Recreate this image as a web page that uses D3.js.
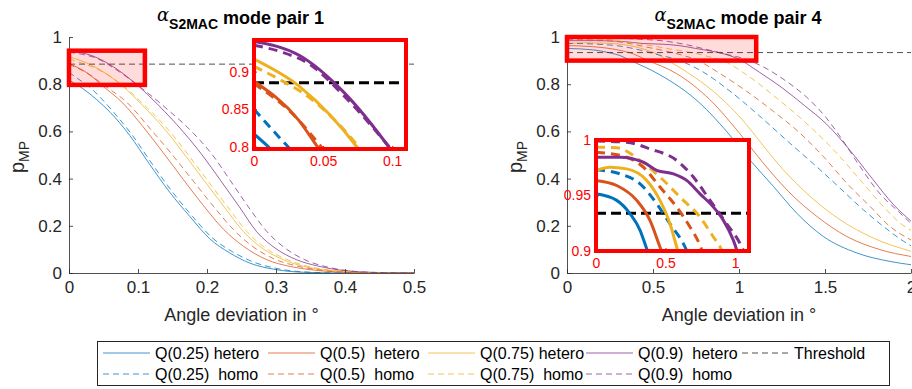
<!DOCTYPE html>
<html>
<head>
<meta charset="utf-8">
<script src="https://cdn.jsdelivr.net/npm/d3@7"></script>
<style>
  body { margin: 0; background: #fff; }
  text { font-family: "Liberation Sans", Arial, sans-serif; }
</style>
</head>
<body>
<div id="chart"></div>
<script>
// ---- data ([angle deviation, p_MP]) ----
var pair1HeteroQ25 = [[0,0.817],[0.012,0.797],[0.04,0.735],[0.06,0.68],[0.088,0.583],[0.117,0.46],[0.146,0.342],[0.175,0.24],[0.204,0.145],[0.233,0.085],[0.262,0.042],[0.301,0.014],[0.34,0.003],[0.4,0],[0.5,0]];
var pair1HomoQ25 = [[0,0.85],[0.018,0.813],[0.026,0.797],[0.045,0.745],[0.065,0.68],[0.092,0.583],[0.121,0.46],[0.15,0.343],[0.179,0.24],[0.208,0.148],[0.237,0.09],[0.266,0.048],[0.305,0.017],[0.345,0.004],[0.4,0],[0.5,0]];
var pair1HeteroQ5 = [[0,0.887],[0.032,0.836],[0.047,0.797],[0.078,0.72],[0.107,0.621],[0.137,0.508],[0.166,0.395],[0.195,0.285],[0.224,0.185],[0.253,0.113],[0.287,0.056],[0.32,0.028],[0.35,0.014],[0.4,0.003],[0.45,0],[0.5,0]];
var pair1HomoQ5 = [[0,0.884],[0.03,0.84],[0.05,0.797],[0.085,0.72],[0.118,0.61],[0.15,0.5],[0.18,0.39],[0.21,0.28],[0.238,0.185],[0.265,0.115],[0.297,0.06],[0.33,0.03],[0.365,0.012],[0.41,0.003],[0.46,0],[0.5,0]];
var pair1HeteroQ75 = [[0,0.9165],[0.033,0.88],[0.0756,0.797],[0.105,0.715],[0.14,0.605],[0.168,0.5],[0.195,0.395],[0.225,0.28],[0.253,0.175],[0.28,0.105],[0.311,0.056],[0.345,0.025],[0.39,0.008],[0.45,0.001],[0.5,0]];
var pair1HomoQ75 = [[0,0.907],[0.019,0.889],[0.035,0.872],[0.077,0.797],[0.108,0.715],[0.145,0.603],[0.173,0.5],[0.2,0.395],[0.23,0.28],[0.258,0.175],[0.285,0.105],[0.315,0.058],[0.35,0.026],[0.4,0.007],[0.46,0.001],[0.5,0]];
var pair1HeteroQ9 = [[0,0.94],[0.0333,0.921],[0.0647,0.873],[0.0986,0.797],[0.13,0.71],[0.165,0.6],[0.193,0.5],[0.219,0.395],[0.247,0.28],[0.272,0.175],[0.3,0.103],[0.33,0.056],[0.36,0.03],[0.4,0.01],[0.45,0.002],[0.5,0]];
var pair1HomoQ9 = [[0,0.935],[0.02,0.926],[0.04,0.91],[0.065,0.868],[0.1,0.795],[0.14,0.7],[0.18,0.593],[0.208,0.5],[0.233,0.395],[0.26,0.28],[0.287,0.175],[0.312,0.108],[0.345,0.052],[0.375,0.025],[0.41,0.008],[0.46,0.001],[0.5,0]];

var pair4HeteroQ25 = [[0,0.9515],[0.149,0.9456],[0.245,0.9335],[0.317,0.9186],[0.36,0.9036],[0.54,0.84],[0.772,0.72],[0.928,0.6],[1.062,0.48],[1.2,0.367],[1.335,0.254],[1.49,0.155],[1.685,0.085],[1.878,0.049],[2,0.035]];
var pair4HomoQ25 = [[0,0.9731],[0.173,0.9695],[0.317,0.9605],[0.437,0.9425],[0.532,0.9245],[0.628,0.9066],[0.772,0.86],[0.966,0.76],[1.12,0.665],[1.296,0.55],[1.452,0.45],[1.587,0.36],[1.723,0.268],[1.84,0.197],[1.956,0.135],[2,0.115]];
var pair4HeteroQ5 = [[0,0.9636],[0.149,0.959],[0.293,0.9456],[0.388,0.9276],[0.46,0.9036],[0.637,0.845],[0.83,0.735],[1.0,0.595],[1.141,0.466],[1.296,0.339],[1.452,0.24],[1.626,0.155],[1.82,0.099],[2,0.07]];
var pair4HomoQ5 = [[0,0.989],[0.221,0.9845],[0.34,0.9755],[0.46,0.9576],[0.58,0.9396],[0.676,0.9216],[0.748,0.905],[0.87,0.854],[1.044,0.77],[1.2,0.685],[1.354,0.593],[1.49,0.494],[1.626,0.381],[1.762,0.282],[1.878,0.197],[2,0.14]];
var pair4HeteroQ75 = [[0,0.9726],[0.101,0.9755],[0.221,0.974],[0.365,0.9636],[0.46,0.9456],[0.532,0.9245],[0.58,0.9036],[0.7,0.85],[0.85,0.77],[1.044,0.628],[1.102,0.575],[1.257,0.438],[1.413,0.325],[1.587,0.226],[1.781,0.148],[2,0.092]];
var pair4HomoQ75 = [[0,0.9935],[0.149,0.993],[0.317,0.9816],[0.46,0.9666],[0.604,0.9486],[0.748,0.9306],[0.844,0.9126],[0.892,0.9036],[1.044,0.84],[1.219,0.741],[1.432,0.607],[1.568,0.508],[1.704,0.395],[1.82,0.297],[1.936,0.212],[2,0.18]];
var pair4HeteroQ9 = [[0,0.9845],[0.173,0.9845],[0.34,0.98],[0.437,0.9726],[0.556,0.9695],[0.652,0.9636],[0.748,0.9515],[0.844,0.9396],[0.916,0.9276],[0.988,0.9096],[1.12,0.85],[1.25,0.785],[1.38,0.71],[1.51,0.63],[1.645,0.52],[1.78,0.395],[1.898,0.29],[2,0.22]];
var pair4HomoQ9 = [[0,0.999],[0.221,0.998],[0.388,0.992],[0.58,0.9816],[0.7,0.9666],[0.82,0.9456],[0.94,0.9245],[1.036,0.9066],[1.15,0.87],[1.27,0.815],[1.393,0.745],[1.51,0.655],[1.6,0.565],[1.7,0.455],[1.82,0.335],[1.92,0.265],[2,0.21]];

var pair1Threshold = 0.885;
var pair4Threshold = 0.934;

// ticks
var yTicks = [0, 0.2, 0.4, 0.6, 0.8, 1];
var pair1XTicks = [0, 0.1, 0.2, 0.3, 0.4, 0.5];
var pair4XTicks = [0, 0.5, 1, 1.5, 2];
var pair1InsetXTicks = [0, 0.05, 0.1];
var pair1InsetYTicks = [0.8, 0.85, 0.9];
var pair4InsetXTicks = [0, 0.5, 1];
var pair4InsetYTicks = [0.9, 0.95, 1];

// legend
var heteroLabels = ["Q(0.25) hetero", "Q(0.5)  hetero", "Q(0.75) hetero", "Q(0.9)  hetero"];
var homoLabels = ["Q(0.25)  homo", "Q(0.5)  homo", "Q(0.75)  homo", "Q(0.9)  homo"];
var thresholdLabel = "Threshold";

// MATLAB default line colours
var colors = ["#0072BD", "#D95319", "#EDB120", "#7E2F8E"];

var svgWidth = 912;
var svgHeight = 389;

var svg = d3.select("#chart")
  .append("svg")
  .attr("width", svgWidth)
  .attr("height", svgHeight);

var defs = svg.append("defs");
var axisColor = "#262626";

function drawPanel(p) {
  var xScale = d3.scaleLinear().domain(p.xDomain).range([p.left, p.left + p.width]);
  var yScale = d3.scaleLinear().domain([0, 1]).range([p.top + p.height, p.top]);

  var series = [];
  p.hetero.forEach(function(d, i) { series.push({ data: d, color: colors[i], dash: null }); });
  p.homo.forEach(function(d, i) { series.push({ data: d, color: colors[i], dash: "6,4" }); });

  defs.append("clipPath").attr("id", "clip" + p.id)
    .append("rect")
    .attr("x", p.left).attr("y", p.top - 2)
    .attr("width", p.width).attr("height", p.height + 2);

  var g = svg.append("g");

  // main curves
  var line = d3.line()
    .curve(d3.curveMonotoneX)
    .x(function(d) { return xScale(d[0]); })
    .y(function(d) { return yScale(d[1]); });

  g.append("g").attr("clip-path", "url(#clip" + p.id + ")")
    .selectAll("path")
    .data(series)
    .enter()
    .append("path")
    .attr("d", function(d) { return line(d.data); })
    .attr("fill", "none")
    .attr("stroke", function(d) { return d.color; })
    .attr("stroke-opacity", 0.75)
    .attr("stroke-width", 1)
    .attr("stroke-dasharray", function(d) { return d.dash; });

  // threshold
  g.append("line")
    .attr("x1", xScale(p.xDomain[0])).attr("x2", xScale(p.xDomain[1]))
    .attr("y1", yScale(p.threshold)).attr("y2", yScale(p.threshold))
    .attr("stroke", "#333").attr("stroke-opacity", 0.85)
    .attr("stroke-width", 1).attr("stroke-dasharray", "6,4");

  // axes (only left and bottom, ticks inward like MATLAB)
  var bottomAxis = d3.axisBottom(xScale).tickValues(p.xTicks)
    .tickFormat(d3.format("~g")).tickSizeInner(-4).tickSizeOuter(0).tickPadding(8);
  var leftAxis = d3.axisLeft(yScale).tickValues(yTicks)
    .tickFormat(d3.format("~g")).tickSizeInner(-4).tickSizeOuter(0).tickPadding(7);

  var xAxis = g.append("g")
    .attr("transform", "translate(0," + (p.top + p.height) + ")")
    .call(bottomAxis);
  var yAxis = g.append("g")
    .attr("transform", "translate(" + p.left + ",0)")
    .call(leftAxis);
  [xAxis, yAxis].forEach(function(a) {
    a.attr("font-size", 17).attr("font-family", "Liberation Sans, Arial, sans-serif");
    a.selectAll("path, line").attr("stroke", axisColor).attr("stroke-opacity", 0.8);
    a.selectAll("text").attr("fill", axisColor);
  });

  // zoom box on the main axes
  g.append("rect")
    .attr("x", xScale(p.insetX[0]))
    .attr("y", yScale(p.insetY[1]))
    .attr("width", xScale(p.insetX[1]) - xScale(p.insetX[0]))
    .attr("height", yScale(p.insetY[0]) - yScale(p.insetY[1]))
    .attr("fill", "#ff0000").attr("fill-opacity", 0.14)
    .attr("stroke", "#ff0000").attr("stroke-width", 4.5);

  // title
  var title = g.append("text")
    .attr("x", p.left + p.width / 2 - 1)
    .attr("y", 24)
    .attr("text-anchor", "middle")
    .attr("font-weight", "bold")
    .attr("font-size", 18)
    .attr("fill", "#000");
  title.append("tspan").attr("font-family", "DejaVu Serif").attr("font-style", "italic")
    .attr("font-weight", "normal").attr("font-size", 18).attr("dy", -3).text("α");
  title.append("tspan").attr("font-size", 14).attr("dy", 8).text("S2MAC");
  title.append("tspan").attr("dy", -5).text(" mode pair " + p.pairNo);

  // axis labels
  g.append("text")
    .attr("x", p.left + p.width / 2)
    .attr("y", 321)
    .attr("text-anchor", "middle")
    .attr("font-size", 18)
    .attr("fill", axisColor)
    .text("Angle deviation in °");

  var yLabel = g.append("text")
    .attr("transform", "translate(" + (p.left - 45) + "," + (p.top + p.height / 2 + 2) + ") rotate(-90)")
    .attr("text-anchor", "middle")
    .attr("font-size", 20)
    .attr("fill", axisColor);
  yLabel.append("tspan").text("p");
  yLabel.append("tspan").attr("font-size", 14).attr("dy", 5).text("MP");

  // inset
  var ix = d3.scaleLinear().domain(p.insetX).range([p.inset.left, p.inset.left + p.inset.width]);
  var iy = d3.scaleLinear().domain(p.insetY).range([p.inset.top + p.inset.height, p.inset.top]);
  var ig = svg.append("g");

  ig.append("rect")
    .attr("x", p.inset.left).attr("y", p.inset.top)
    .attr("width", p.inset.width).attr("height", p.inset.height)
    .attr("fill", "#fff");

  defs.append("clipPath").attr("id", "inclip" + p.id)
    .append("rect")
    .attr("x", p.inset.left).attr("y", p.inset.top)
    .attr("width", p.inset.width).attr("height", p.inset.height);

  var insetLine = d3.line()
    .curve(d3.curveMonotoneX)
    .x(function(d) { return ix(d[0]); })
    .y(function(d) { return iy(d[1]); });

  var inner = ig.append("g").attr("clip-path", "url(#inclip" + p.id + ")");

  inner.append("line")
    .attr("x1", p.inset.left).attr("x2", p.inset.left + p.inset.width)
    .attr("y1", iy(p.threshold)).attr("y2", iy(p.threshold))
    .attr("stroke", "#000").attr("stroke-width", 3).attr("stroke-dasharray", "10,5");

  // homo first so the solid hetero lines sit on top
  inner.selectAll("path")
    .data(series.slice(4).concat(series.slice(0, 4)))
    .enter()
    .append("path")
    .attr("d", function(d) { return insetLine(d.data); })
    .attr("fill", "none")
    .attr("stroke", function(d) { return d.color; })
    .attr("stroke-width", 3)
    .attr("stroke-dasharray", function(d) { return d.dash ? "9,6" : null; });

  // inset axes in red
  var insetBottom = d3.axisBottom(ix).tickValues(p.insetXTicks)
    .tickFormat(d3.format("~g")).tickSizeInner(-3).tickSizeOuter(0).tickPadding(7);
  var insetLeft = d3.axisLeft(iy).tickValues(p.insetYTicks)
    .tickFormat(d3.format("~g")).tickSizeInner(-3).tickSizeOuter(0).tickPadding(5);
  var ixAxis = ig.append("g")
    .attr("transform", "translate(0," + (p.inset.top + p.inset.height) + ")")
    .call(insetBottom);
  var iyAxis = ig.append("g")
    .attr("transform", "translate(" + p.inset.left + ",0)")
    .call(insetLeft);
  [ixAxis, iyAxis].forEach(function(a) {
    a.attr("font-size", 14).attr("font-family", "Liberation Sans, Arial, sans-serif");
    a.select(".domain").remove();
    a.selectAll("line").attr("stroke", "#ff0000");
    a.selectAll("text").attr("fill", "#ff0000");
  });

  ig.append("rect")
    .attr("x", p.inset.left).attr("y", p.inset.top)
    .attr("width", p.inset.width).attr("height", p.inset.height)
    .attr("fill", "none")
    .attr("stroke", "#ff0000").attr("stroke-width", 4);
}

drawPanel({
  id: 1, pairNo: 1,
  left: 69, top: 37, width: 345, height: 236,
  xDomain: [0, 0.5], xTicks: pair1XTicks,
  hetero: [pair1HeteroQ25, pair1HeteroQ5, pair1HeteroQ75, pair1HeteroQ9],
  homo: [pair1HomoQ25, pair1HomoQ5, pair1HomoQ75, pair1HomoQ9],
  threshold: pair1Threshold,
  insetX: [0, 0.11], insetY: [0.797, 0.942],
  insetXTicks: pair1InsetXTicks, insetYTicks: pair1InsetYTicks,
  inset: { left: 254, top: 40, width: 152, height: 109 }
});

drawPanel({
  id: 4, pairNo: 4,
  left: 567, top: 37, width: 344, height: 236,
  xDomain: [0, 2], xTicks: pair4XTicks,
  hetero: [pair4HeteroQ25, pair4HeteroQ5, pair4HeteroQ75, pair4HeteroQ9],
  homo: [pair4HomoQ25, pair4HomoQ5, pair4HomoQ75, pair4HomoQ9],
  threshold: pair4Threshold,
  insetX: [0, 1.1], insetY: [0.9, 1.0],
  insetXTicks: pair4InsetXTicks, insetYTicks: pair4InsetYTicks,
  inset: { left: 596, top: 140, width: 153, height: 111 }
});

// legend box
var legend = svg.append("g");
legend.append("rect")
  .attr("x", 97.5).attr("y", 341.5)
  .attr("width", 792).attr("height", 44)
  .attr("fill", "#fff").attr("stroke", axisColor).attr("stroke-width", 1);

var legendCols = [103, 268, 428, 586, 742];
var legendItems = [];
heteroLabels.forEach(function(l, i) { legendItems.push({ label: l, color: colors[i], dash: null, col: i, row: 0, op: 0.75 }); });
legendItems.push({ label: thresholdLabel, color: "#333", dash: "6,4", col: 4, row: 0, op: 0.85 });
homoLabels.forEach(function(l, i) { legendItems.push({ label: l, color: colors[i], dash: "6,4", col: i, row: 1, op: 0.75 }); });

var items = legend.selectAll("g.item")
  .data(legendItems)
  .enter()
  .append("g")
  .attr("class", "item")
  .attr("transform", function(d) { return "translate(" + legendCols[d.col] + "," + (353 + d.row * 21) + ")"; });

items.append("line")
  .attr("x1", 0).attr("x2", 47)
  .attr("stroke", function(d) { return d.color; })
  .attr("stroke-opacity", function(d) { return d.op; })
  .attr("stroke-dasharray", function(d) { return d.dash; });

items.append("text")
  .attr("x", 52).attr("dy", "0.35em")
  .attr("font-size", 16)
  .attr("fill", "#000")
  .style("white-space", "pre")
  .text(function(d) { return d.label; });
</script>
</body>
</html>
